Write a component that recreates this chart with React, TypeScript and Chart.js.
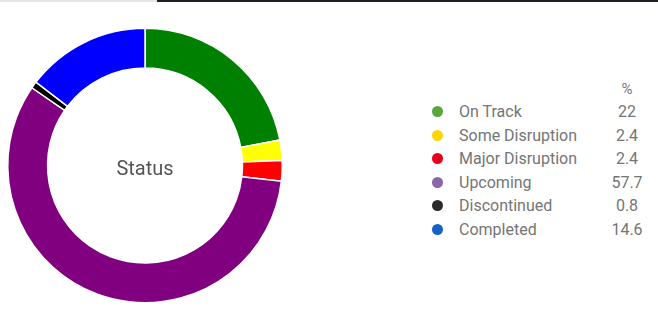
import React, { useEffect, useRef } from "react";
import { Chart, registerables } from "chart.js";

Chart.register(...registerables);

const categories = ["On Track", "Some Disruption", "Major Disruption", "Upcoming", "Discontinued", "Completed"];
const values = [22, 2.4, 2.4, 57.7, 0.8, 14.6];
const ringColors = ["#008000", "#ffff00", "#ff0000", "#800080", "#000000", "#0000ff"];
const legendColors = ["#57a83a", "#ffd500", "#e5001c", "#8c64a8", "#2b2b2b", "#1462c4"];
const valueLabels = ["22", "2.4", "2.4", "57.7", "0.8", "14.6"];
const centerTitle = "Status";
const valueHeader = "%";

export default function App() {
  const canvasRef = useRef<HTMLCanvasElement | null>(null);

  useEffect(() => {
    document.body.style.margin = "0";
    const canvas = canvasRef.current;
    if (!canvas) return;
    const chart = new Chart(canvas, {
      type: "doughnut",
      data: {
        labels: categories,
        datasets: [
          {
            data: values,
            backgroundColor: ringColors,
            borderColor: "#ffffff",
            borderWidth: 1.5,
            hoverOffset: 0,
          },
        ],
      },
      options: {
        responsive: false,
        animation: false,
        cutout: "71%",
        layout: { padding: { left: 7, right: 7, top: 27, bottom: 26 } },
        plugins: {
          legend: { display: false },
          tooltip: { enabled: false },
        },
      },
    });
    return () => chart.destroy();
  }, []);

  const font = "Roboto, 'Noto Sans', sans-serif";
  const rowTop0 = 100;
  const rowH = 23.5;

  return (
    <div style={{ position: "relative", width: 658, height: 320, background: "#fff", overflow: "hidden", fontFamily: font }}>
      <div style={{ position: "absolute", left: 0, top: 0, width: 157, height: 2, background: "#e6e6e6" }} />
      <div style={{ position: "absolute", left: 157, top: 0, width: 501, height: 2, background: "#1b2026" }} />
      <canvas ref={canvasRef} width={290} height={330} style={{ position: "absolute", left: 0, top: 0 }} />
      <div
        style={{
          position: "absolute",
          left: 95,
          top: 156,
          width: 100,
          textAlign: "center",
          fontSize: 20,
          lineHeight: "24px",
          color: "#555555",
        }}
      >
        {centerTitle}
      </div>
      <div
        style={{
          position: "absolute",
          left: 599,
          top: rowTop0 - rowH + 1,
          width: 56,
          textAlign: "center",
          fontSize: 15,
          lineHeight: `${rowH}px`,
          color: "#7a7a7a",
        }}
      >
        {valueHeader}
      </div>
      {categories.map((c, i) => (
        <div
          key={c}
          style={{
            position: "absolute",
            left: 430,
            top: rowTop0 + i * rowH,
            width: 228,
            height: rowH,
            fontSize: 16,
            lineHeight: `${rowH}px`,
            color: "#757575",
          }}
        >
          <span
            style={{
              position: "absolute",
              left: 2,
              top: rowH / 2 - 5.5,
              width: 11,
              height: 11,
              borderRadius: "50%",
              background: legendColors[i],
            }}
          />
          <span style={{ position: "absolute", left: 29, top: 0, whiteSpace: "nowrap" }}>{c}</span>
          <span style={{ position: "absolute", left: 169, width: 56, top: 0, textAlign: "center" }}>{valueLabels[i]}</span>
        </div>
      ))}
    </div>
  );
}
